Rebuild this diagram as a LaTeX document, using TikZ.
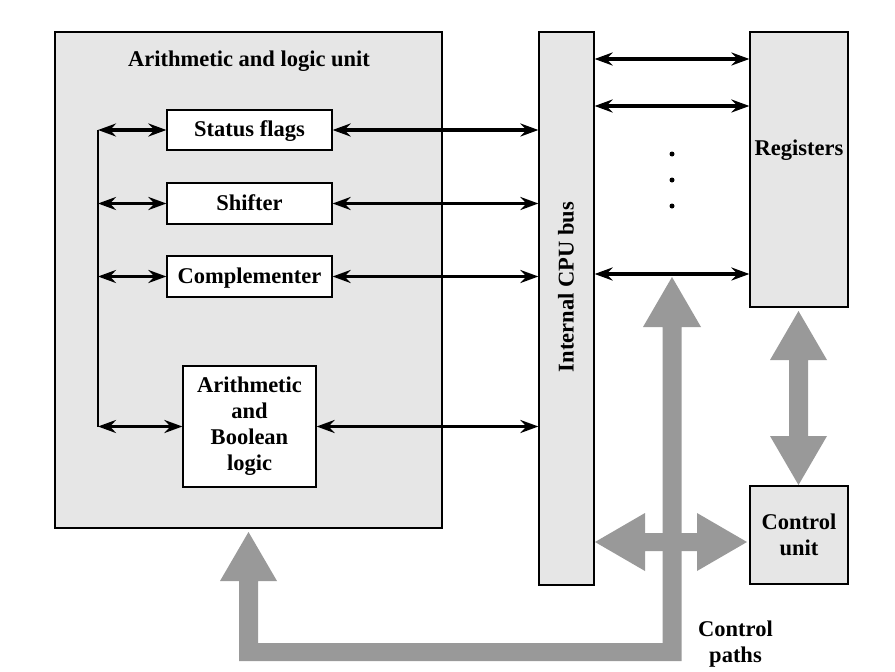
\documentclass[tikz,border=0pt]{standalone}
\usepackage{fontspec}
\setmainfont{Liberation Serif}
\usetikzlibrary{arrows.meta}
\definecolor{boxgray}{RGB}{230,230,230}
\definecolor{arrgray}{RGB}{153,153,153}
\begin{document}
\begin{tikzpicture}[x=1pt,y=-1pt,
  txt/.style={font=\fontsize{22.5}{26}\selectfont\bfseries},
  blk/.style={draw, line width=1.2pt, inner sep=0pt, txt},
  dbl/.style={line width=3.3pt, {Stealth[length=18pt,width=13pt,inset=6pt]}-{Stealth[length=18pt,width=13pt,inset=6pt]}},
  garrow/.style={fill=arrgray, draw=none}]
\useasboundingbox (0,0) rectangle (895,672);

% boxes
\node[blk, fill=boxgray, minimum width=387pt, minimum height=496pt] (alu) at (248.5,280) {};
\node[txt, anchor=base] (alut) at (249,66.7) {Arithmetic and logic unit};
\node[blk, fill=white, minimum width=165pt, minimum height=40pt, text height=16pt, text depth=4pt] (sf) at (249.5,130) {Status flags};
\node[blk, fill=white, minimum width=165pt, minimum height=41pt, text height=17pt, text depth=3pt] (sh) at (249.5,203.5) {Shifter};
\node[blk, fill=white, minimum width=165pt, minimum height=41pt, text height=17pt, text depth=3pt] (co) at (249.5,276.5) {Complementer};
\node[blk, fill=white, minimum width=133pt, minimum height=121pt, align=center] (ab) at (249.5,426.5) {Arithmetic\\and\\Boolean\\logic};

\node[blk, fill=boxgray, minimum width=55pt, minimum height=553pt] (bus) at (566.5,308.5) {};
\node[txt, rotate=90, anchor=base] (bust) at (573.5,287) {Internal CPU bus};

\node[blk, fill=boxgray, minimum width=98pt, minimum height=275pt] (reg) at (799,169.5) {};
\node[txt, anchor=base] (regt) at (799,155) {Registers};

\node[blk, fill=boxgray, minimum width=98pt, minimum height=98pt, align=center] (cu) at (799,535) {Control\\unit};

\node[txt, align=center] (cp) at (735.5,644) {Control\\paths};

% left vertical line and arrows
\coordinate (lx) at (98,0);
\draw[line width=1.2pt] (lx |- sf.west) -- (lx |- ab.west);
\draw[dbl] (lx |- sf.west) -- (sf.west);
\draw[dbl] (lx |- sh.west) -- (sh.west);
\draw[dbl] (lx |- co.west) -- (co.west);
\draw[dbl] (lx |- ab.west) -- (ab.west);

% arrows to bus
\draw[dbl] (sf.east) -- (sf.east -| bus.west);
\draw[dbl] (sh.east) -- (sh.east -| bus.west);
\draw[dbl] (co.east) -- (co.east -| bus.west);
\draw[dbl] (ab.east) -- (ab.east -| bus.west);

% arrows bus - registers
\coordinate (r1) at (0,59);
\coordinate (r2) at (0,106);
\coordinate (r3) at (0,274);
\draw[dbl] (bus.east |- r1) -- (reg.west |- r1);
\draw[dbl] (bus.east |- r2) -- (reg.west |- r2);
\draw[dbl] (bus.east |- r3) -- (reg.west |- r3);

% dots
\fill (672,154) circle (2.5pt);
\fill (672,180) circle (2.5pt);
\fill (672,206) circle (2.5pt);

% gray arrows
\fill[garrow] (798.5,311) -- (827,360) -- (808,360) -- (808,436) -- (827,436) -- (798.5,485)
  -- (770,436) -- (789,436) -- (789,360) -- (770,360) -- cycle;
\fill[garrow] (672,277) -- (701,327) -- (681.5,327) -- (681.5,661) -- (239,661) -- (239,581)
  -- (220,581) -- (248.5,532) -- (277,581) -- (258,581) -- (258,643) -- (662.5,643)
  -- (662.5,327) -- (643,327) -- cycle;
\fill[garrow] (595,542) -- (645,513) -- (645,533) -- (697,533) -- (697,513) -- (747,542)
  -- (697,571) -- (697,551) -- (645,551) -- (645,571) -- cycle;
\end{tikzpicture}
\end{document}
